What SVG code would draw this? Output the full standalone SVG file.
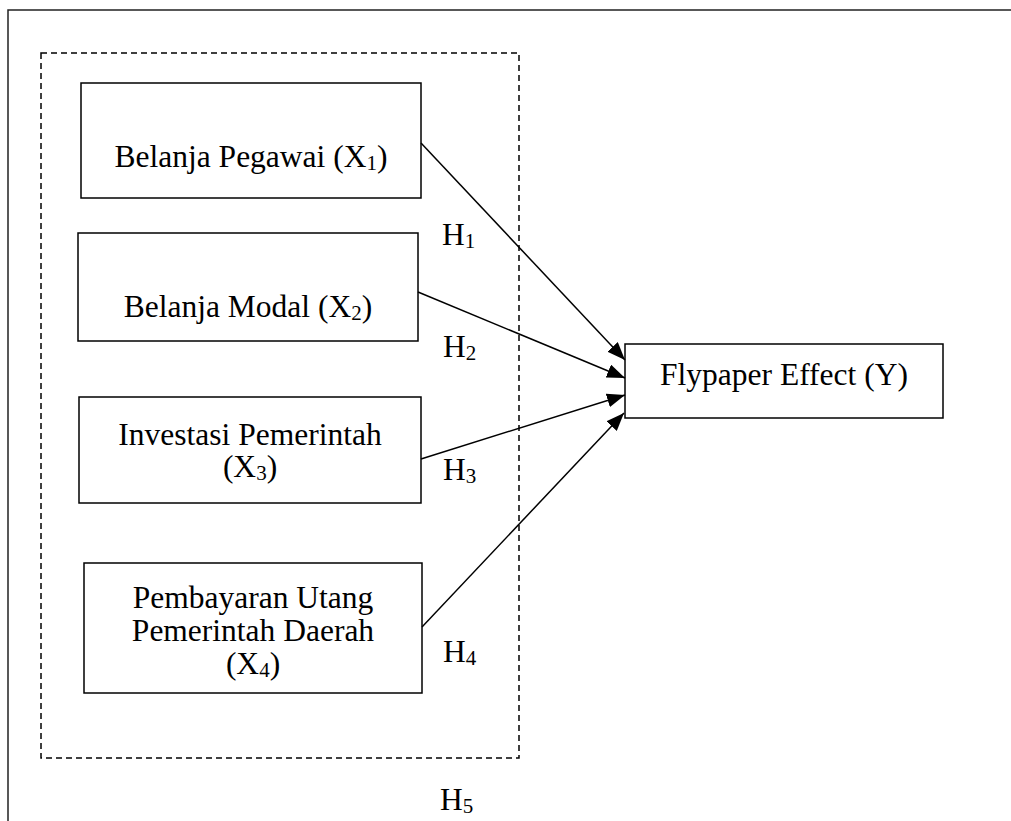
<svg xmlns="http://www.w3.org/2000/svg" width="1011" height="821" viewBox="0 0 1011 821">
<style>
.box{fill:#fff;stroke:#000;stroke-width:1.5}
.t{font-family:"Liberation Serif","Times New Roman",serif;font-size:31.5px;fill:#000;text-anchor:middle}
.h{font-family:"Liberation Serif","Times New Roman",serif;font-size:31.5px;fill:#000}
.sub{font-size:21px}
.conn{stroke:#000;stroke-width:1.5;fill:none}
</style>
<defs>
<marker id="arr" markerUnits="userSpaceOnUse" markerWidth="18" markerHeight="14" viewBox="0 0 18 14" refX="18" refY="7" orient="auto">
<path d="M0,0 L18,7 L0,14 Z" fill="#000"/>
</marker>
</defs>
<rect width="1011" height="821" fill="#fff"/>
<path d="M8,830 L8,10 L1020,10" fill="none" stroke="#222" stroke-width="1.5"/>
<rect id="group-x" x="41" y="53" width="478" height="705" fill="none" stroke="#000" stroke-width="1.5" stroke-dasharray="6 4"/>
<g id="x1">
<rect class="box" x="81" y="83" width="340" height="115"/>
<text class="t" x="251" y="167">Belanja Pegawai (X<tspan class="sub" dy="3">1</tspan><tspan dy="-3">)</tspan></text>
</g>
<g id="x2">
<rect class="box" x="78" y="233" width="340" height="108"/>
<text class="t" x="248" y="317">Belanja Modal (X<tspan class="sub" dy="3">2</tspan><tspan dy="-3">)</tspan></text>
</g>
<g id="x3">
<rect class="box" x="79" y="397" width="342" height="106"/>
<text class="t" x="250" y="445">Investasi Pemerintah</text>
<text class="t" x="250" y="477">(X<tspan class="sub" dy="3">3</tspan><tspan dy="-3">)</tspan></text>
</g>
<g id="x4">
<rect class="box" x="84" y="563" width="338" height="130"/>
<text class="t" x="253" y="608">Pembayaran Utang</text>
<text class="t" x="253" y="641">Pemerintah Daerah</text>
<text class="t" x="253" y="674">(X<tspan class="sub" dy="3">4</tspan><tspan dy="-3">)</tspan></text>
</g>
<g id="y">
<rect class="box" x="625" y="344" width="318" height="74"/>
<text class="t" x="784" y="385">Flypaper Effect (Y)</text>
</g>
<g id="connectors">
<line class="conn" x1="421" y1="143" x2="625" y2="360" marker-end="url(#arr)"/>
<line class="conn" x1="418" y1="292" x2="625" y2="378" marker-end="url(#arr)"/>
<line class="conn" x1="421" y1="459" x2="625" y2="395" marker-end="url(#arr)"/>
<line class="conn" x1="422" y1="627" x2="624" y2="413" marker-end="url(#arr)"/>
</g>
<g id="labels">
<text class="h" x="442" y="245">H<tspan class="sub" dy="3">1</tspan></text>
<text class="h" x="443" y="357">H<tspan class="sub" dy="3">2</tspan></text>
<text class="h" x="443" y="480">H<tspan class="sub" dy="3">3</tspan></text>
<text class="h" x="443" y="662">H<tspan class="sub" dy="3">4</tspan></text>
<text class="h" x="440" y="810">H<tspan class="sub" dy="3">5</tspan></text>
</g>
</svg>
